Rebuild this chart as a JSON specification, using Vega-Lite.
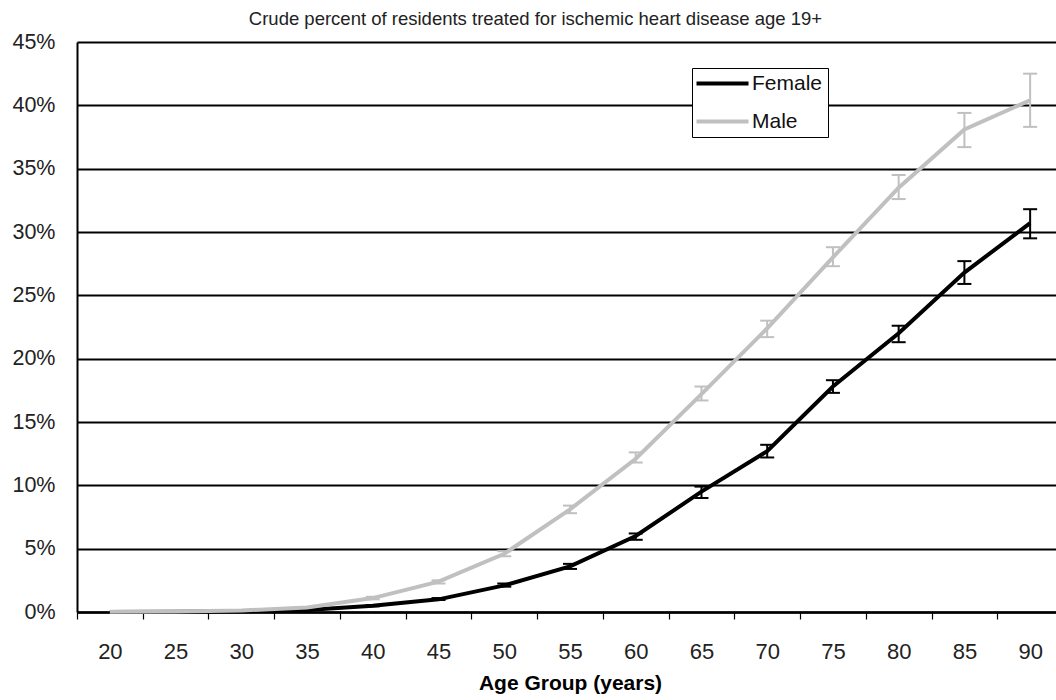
{
  "$schema": "https://vega.github.io/schema/vega-lite/v6.json",
  "width": 979,
  "height": 570,
  "autosize": {"type": "none"},
  "padding": {"left": 77, "top": 42, "right": 0, "bottom": 88},
  "background": "white",
  "title": {
    "text": "Crude percent of residents treated for ischemic heart disease age 19+",
    "fontSize": 18.5,
    "font": "Liberation Sans",
    "fontWeight": "normal",
    "color": "#222",
    "anchor": "middle",
    "frame": "group",
    "dx": -31,
    "dy": 28,
    "offset": 16,
    "baseline": "alphabetic"
  },
  "config": {"font": "Liberation Sans", "view": {"stroke": null}},
  "data": {
    "values": [
      {"age": "20", "sex": "Female", "pct": 0.0, "lo": null, "hi": null},
      {"age": "25", "sex": "Female", "pct": 0.0001, "lo": null, "hi": null},
      {"age": "30", "sex": "Female", "pct": 0.0005, "lo": null, "hi": null},
      {"age": "35", "sex": "Female", "pct": 0.0015, "lo": null, "hi": null},
      {"age": "40", "sex": "Female", "pct": 0.005, "lo": 0.0045, "hi": 0.0055},
      {"age": "45", "sex": "Female", "pct": 0.010, "lo": 0.0095, "hi": 0.011},
      {"age": "50", "sex": "Female", "pct": 0.021, "lo": 0.020, "hi": 0.0225},
      {"age": "55", "sex": "Female", "pct": 0.036, "lo": 0.034, "hi": 0.038},
      {"age": "60", "sex": "Female", "pct": 0.060, "lo": 0.057, "hi": 0.062},
      {"age": "65", "sex": "Female", "pct": 0.095, "lo": 0.090, "hi": 0.099},
      {"age": "70", "sex": "Female", "pct": 0.127, "lo": 0.122, "hi": 0.132},
      {"age": "75", "sex": "Female", "pct": 0.178, "lo": 0.173, "hi": 0.183},
      {"age": "80", "sex": "Female", "pct": 0.220, "lo": 0.213, "hi": 0.226},
      {"age": "85", "sex": "Female", "pct": 0.268, "lo": 0.259, "hi": 0.277},
      {"age": "90", "sex": "Female", "pct": 0.307, "lo": 0.295, "hi": 0.318},
      {"age": "20", "sex": "Male", "pct": 0.0002, "lo": null, "hi": null},
      {"age": "25", "sex": "Male", "pct": 0.0004, "lo": null, "hi": null},
      {"age": "30", "sex": "Male", "pct": 0.0012, "lo": null, "hi": null},
      {"age": "35", "sex": "Male", "pct": 0.0035, "lo": null, "hi": null},
      {"age": "40", "sex": "Male", "pct": 0.011, "lo": 0.010, "hi": 0.012},
      {"age": "45", "sex": "Male", "pct": 0.024, "lo": 0.0225, "hi": 0.025},
      {"age": "50", "sex": "Male", "pct": 0.046, "lo": 0.044, "hi": 0.048},
      {"age": "55", "sex": "Male", "pct": 0.081, "lo": 0.078, "hi": 0.084},
      {"age": "60", "sex": "Male", "pct": 0.121, "lo": 0.118, "hi": 0.126},
      {"age": "65", "sex": "Male", "pct": 0.172, "lo": 0.167, "hi": 0.178},
      {"age": "70", "sex": "Male", "pct": 0.224, "lo": 0.217, "hi": 0.230},
      {"age": "75", "sex": "Male", "pct": 0.280, "lo": 0.273, "hi": 0.288},
      {"age": "80", "sex": "Male", "pct": 0.335, "lo": 0.326, "hi": 0.345},
      {"age": "85", "sex": "Male", "pct": 0.381, "lo": 0.367, "hi": 0.394},
      {"age": "90", "sex": "Male", "pct": 0.404, "lo": 0.383, "hi": 0.425}
    ]
  },
  "encoding": {
    "x": {
      "field": "age",
      "type": "ordinal",
      "sort": null,
      "scale": {"type": "band", "range": [0, 986], "paddingInner": 0, "paddingOuter": 0},
      "axis": {
        "title": "Age Group (years)",
        "tickBand": "extent",
        "grid": false,
        "labelAngle": 0,
        "domainColor": "black",
        "domainWidth": 2.5,
        "tickColor": "black",
        "tickWidth": 1.2,
        "tickSize": 7,
        "labelFontSize": 22,
        "labelColor": "#222",
        "labelPadding": 22,
        "titleFontSize": 21,
        "titleFontWeight": "bold",
        "titleColor": "black",
        "titlePadding": 10
      }
    },
    "color": {
      "field": "sex",
      "type": "nominal",
      "scale": {"domain": ["Female", "Male"], "range": ["#000000", "#c0c0c0"]},
      "legend": {
        "title": null,
        "orient": "none",
        "legendX": 615,
        "legendY": 26,
        "symbolType": "M-4,0H4",
        "symbolSize": 169,
        "symbolStrokeWidth": 4,
        "symbolOpacity": 1,
        "symbolOffset": 15,
        "labelFontSize": 21,
        "labelColor": "#111",
        "labelOffset": 19,
        "padding": 5,
        "rowPadding": 16,
        "strokeColor": "black",
        "fillColor": "white",
        "labelExpr": "datum.label + ' '"
      }
    }
  },
  "layer": [
    {
      "mark": {"type": "line", "strokeWidth": 4},
      "encoding": {
        "y": {
          "field": "pct",
          "type": "quantitative",
          "title": null,
          "scale": {"domain": [0, 0.45], "nice": false},
          "axis": {
            "format": ".0%",
            "values": [0, 0.05, 0.1, 0.15, 0.2, 0.25, 0.3, 0.35, 0.4, 0.45],
            "title": null,
            "grid": true,
            "gridColor": "black",
            "gridWidth": 2,
            "ticks": false,
            "tickSize": 0,
            "domainColor": "black",
            "domainWidth": 2,
            "labelFontSize": 21.5,
            "labelPadding": 22,
            "labelColor": "#222"
          }
        }
      }
    },
    {
      "mark": {"type": "rule", "strokeWidth": 2},
      "encoding": {
        "y": {"field": "lo", "type": "quantitative", "title": null},
        "y2": {"field": "hi"}
      }
    },
    {
      "mark": {"type": "tick", "size": 14, "thickness": 2, "opacity": 1},
      "encoding": {
        "y": {"field": "lo", "type": "quantitative", "title": null}
      }
    },
    {
      "mark": {"type": "tick", "size": 14, "thickness": 2, "opacity": 1},
      "encoding": {
        "y": {"field": "hi", "type": "quantitative", "title": null}
      }
    }
  ]
}
